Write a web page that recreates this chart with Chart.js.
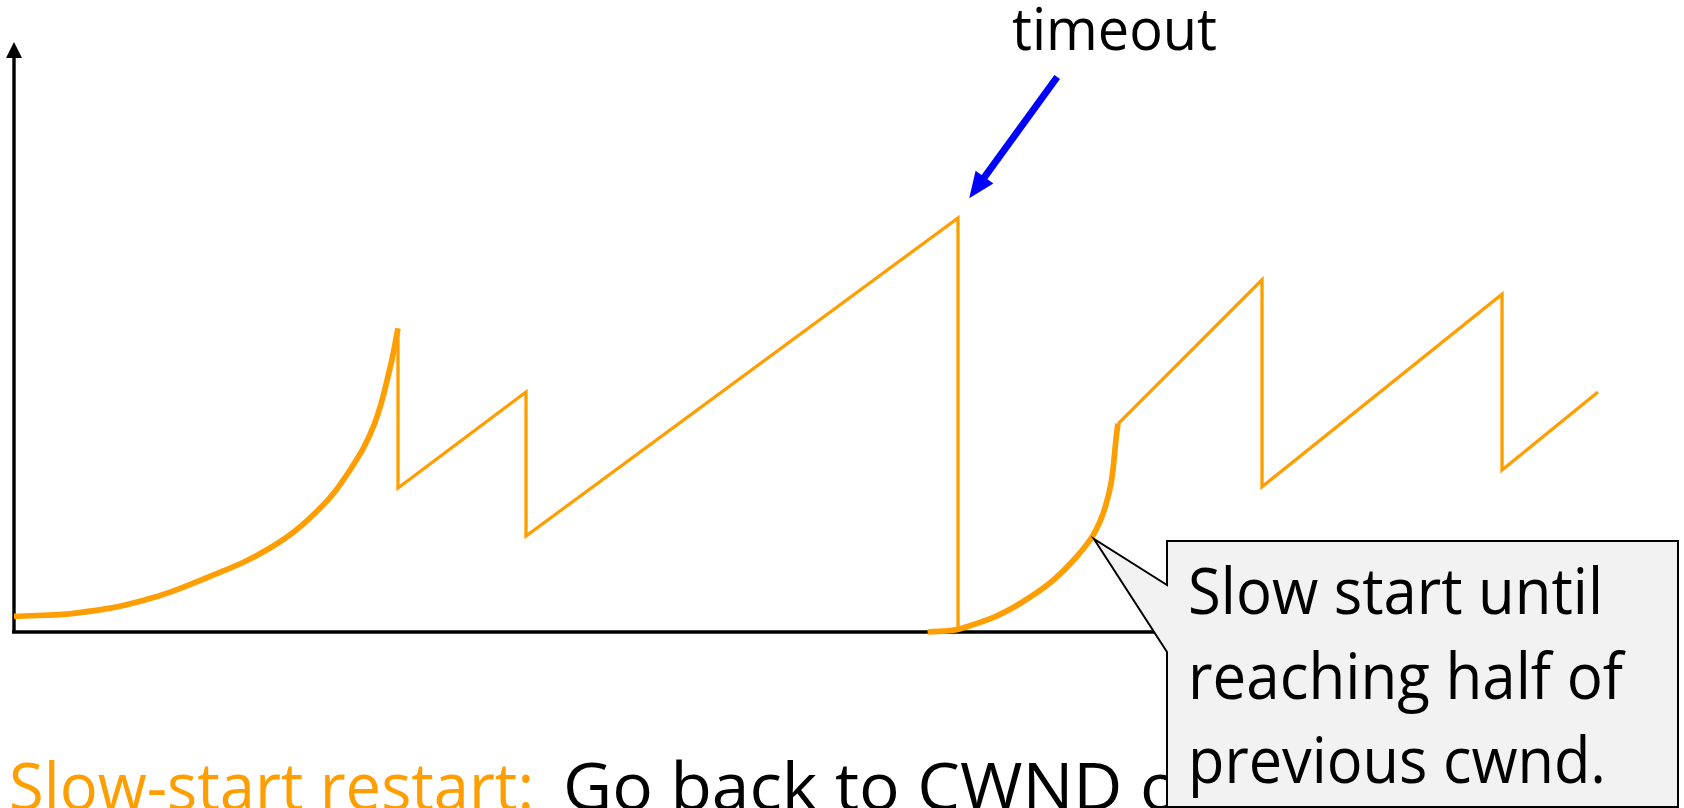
<!DOCTYPE html>
<html>
<head>
<meta charset="utf-8">
<script src="https://cdn.jsdelivr.net/npm/chart.js@4.4.1/dist/chart.umd.min.js"></script>
<style>
  html, body { margin:0; padding:0; background:#fff; }
  #wrap { position:relative; width:1684px; height:808px; }
</style>
</head>
<body>
<div id="wrap"><canvas id="cwndChart"></canvas></div>
<script>
// time (x) vs cwnd (y), both on a 0..100 scale
const ss1Time  = [0, 4, 8, 12, 16, 19, 21, 22.5, 23.5, 24];
const ss1Cwnd  = [2.6, 3.2, 5.2, 9.0, 14.0, 20.3, 27.0, 34.5, 44.0, 50.6];
const aimd1Time = [24, 24, 32, 32, 59, 59];
const aimd1Cwnd = [50.6, 24, 40, 16, 69, 0];
const ss2Time  = [57.1, 59.1, 62.9, 66.4, 68.2, 69];
const ss2Cwnd  = [0, 0.5, 4.8, 12.5, 20.8, 34.7];
const aimd2Time = [69, 78, 78, 93, 93, 99];
const aimd2Cwnd = [34.7, 58.7, 24.2, 56.3, 27, 40];

const calloutLines = ['Slow start until', 'reaching half of', 'previous cwnd.'];
const timeoutLabel = 'timeout';
const restartLabel = 'Slow-start restart:';
const restartText = 'Go back to CWND of 1 MSS';

const ORANGE = '#FF9E00';
const FONT = '"Open Sans", sans-serif';

const pts = (xs, ys) => xs.map((x, i) => ({x, y: ys[i]}));

function fitText(ctx, str, x, y, width, measureStr) {
  const w = ctx.measureText(measureStr || str).width;
  ctx.save();
  ctx.translate(x, y);
  ctx.scale(width / w, 1);
  ctx.fillText(str, 0, 0);
  ctx.restore();
}

const decor = {
  id: 'decor',
  beforeDatasetsDraw(chart) {
    const {ctx, scales:{x, y}} = chart;
    const x0 = x.getPixelForValue(0), y0 = y.getPixelForValue(0);
    const top = y.getPixelForValue(100) + 10;
    ctx.save();
    ctx.strokeStyle = '#000';
    ctx.lineWidth = 3.4;
    ctx.beginPath();
    ctx.moveTo(x0, y0 + 1.7);
    ctx.lineTo(x0, top + 15);
    ctx.moveTo(x0 - 2, y0);
    ctx.lineTo(x.getPixelForValue(75), y0);
    ctx.stroke();
    ctx.fillStyle = '#000';
    ctx.beginPath();
    ctx.moveTo(x0, top);
    ctx.lineTo(x0 - 8, top + 16);
    ctx.lineTo(x0 + 8, top + 16);
    ctx.closePath();
    ctx.fill();
    ctx.restore();
  },
  afterDatasetsDraw(chart) {
    const {ctx, scales:{x, y}} = chart;
    ctx.save();
    ctx.textBaseline = 'alphabetic';

    // bottom line of the slide
    ctx.font = '65px ' + FONT;
    ctx.fillStyle = ORANGE;
    fitText(ctx, restartLabel, 9, 810, 525);
    ctx.fillStyle = '#000';
    fitText(ctx, restartText, 563, 810, 577, 'Go back to CWND ');

    // callout
    const tipX = x.getPixelForValue(67.5), tipY = y.getPixelForValue(15.5);
    const L = 1167, T = 541, R = 1678, B = 807;
    ctx.beginPath();
    ctx.moveTo(L, T);
    ctx.lineTo(R, T);
    ctx.lineTo(R, B);
    ctx.lineTo(L, B);
    ctx.lineTo(L, 652);
    ctx.lineTo(tipX, tipY);
    ctx.lineTo(L, 585);
    ctx.closePath();
    ctx.fillStyle = '#F2F2F2';
    ctx.fill();
    ctx.strokeStyle = '#000';
    ctx.lineWidth = 2;
    ctx.lineJoin = 'miter';
    ctx.stroke();

    ctx.fillStyle = '#000';
    ctx.font = '64px ' + FONT;
    const widths = [415, 435, 418];
    calloutLines.forEach((s, i) => fitText(ctx, s, 1188, 614 + i * 84.5, widths[i]));

    // timeout label and arrow
    ctx.font = '58px ' + FONT;
    fitText(ctx, timeoutLabel, 1012, 50, 205);

    const ax = x.getPixelForValue(65.2), ay = y.getPixelForValue(92.5);
    const bx = x.getPixelForValue(59.7), by = y.getPixelForValue(72.3);
    const len = Math.hypot(bx - ax, by - ay);
    const dx = (bx - ax) / len, dy = (by - ay) / len;
    const nx = -dy, ny = dx;
    const headLen = 26, headW = 11;
    ctx.strokeStyle = '#0000FF';
    ctx.fillStyle = '#0000FF';
    ctx.lineWidth = 7;
    ctx.lineCap = 'butt';
    ctx.beginPath();
    ctx.moveTo(ax, ay);
    ctx.lineTo(bx - dx * (headLen - 4), by - dy * (headLen - 4));
    ctx.stroke();
    const cx = bx - dx * headLen, cy = by - dy * headLen;
    ctx.beginPath();
    ctx.moveTo(bx, by);
    ctx.lineTo(cx + nx * headW, cy + ny * headW);
    ctx.lineTo(cx - nx * headW, cy - ny * headW);
    ctx.closePath();
    ctx.fill();
    ctx.restore();
  }
};

const thick = {borderColor: ORANGE, borderWidth: 5.7, pointRadius: 0, tension: 0.4, clip: false, borderCapStyle: 'butt'};
const thin = {borderColor: ORANGE, borderWidth: 3.3, pointRadius: 0, tension: 0, clip: false, borderJoinStyle: 'miter'};

new Chart(document.getElementById('cwndChart'), {
  type: 'line',
  data: {
    datasets: [
      {label: 'slow start', data: pts(ss1Time, ss1Cwnd), ...thick},
      {label: 'AIMD', data: pts(aimd1Time, aimd1Cwnd), ...thin},
      {label: 'slow start restart', data: pts(ss2Time, ss2Cwnd), ...thick},
      {label: 'AIMD 2', data: pts(aimd2Time, aimd2Cwnd), ...thin}
    ]
  },
  options: {
    responsive: true,
    maintainAspectRatio: false,
    animation: false,
    layout: {padding: {left: 14, top: 32, right: 70, bottom: 176}},
    plugins: {legend: {display: false}, tooltip: {enabled: false}},
    scales: {
      x: {type: 'linear', min: 0, max: 100, display: false},
      y: {type: 'linear', min: 0, max: 100, display: false}
    }
  },
  plugins: [decor]
});
</script>
</body>
</html>
